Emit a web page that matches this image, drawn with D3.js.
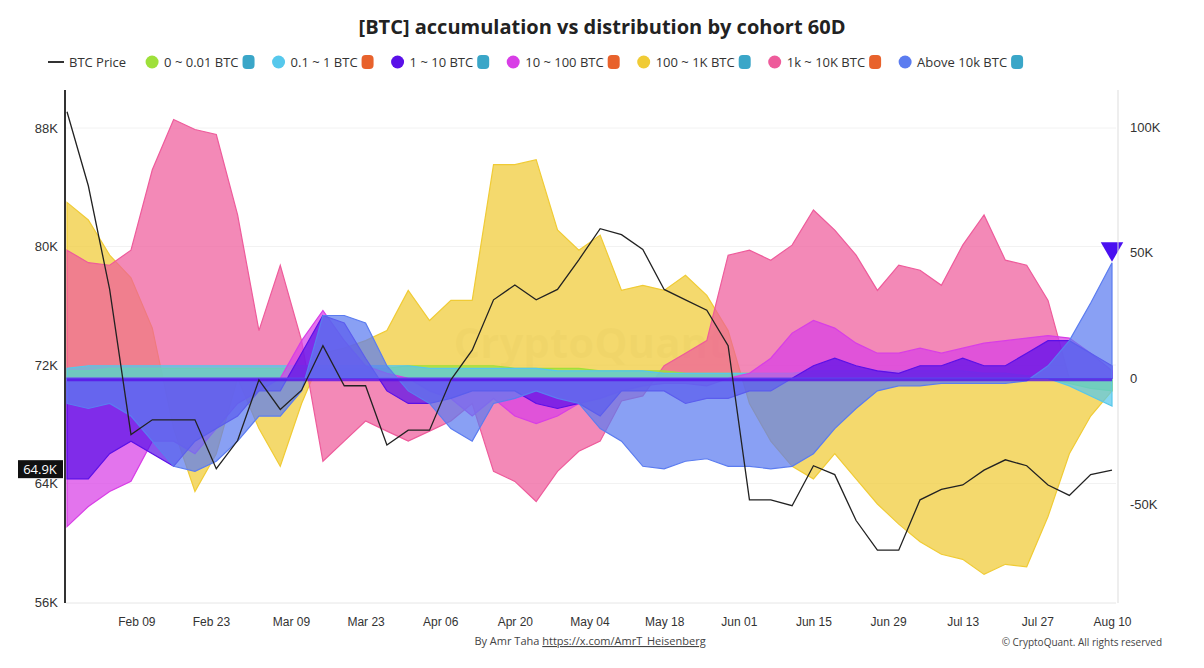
<!DOCTYPE html>
<html><head><meta charset="utf-8">
<script src="https://cdn.jsdelivr.net/npm/d3@7"></script>
<style>body{margin:0;background:#fff;font-family:"Open Sans","Noto Sans",sans-serif}</style>
</head><body>
<svg id="chart" width="1204" height="668"></svg>
<script>
// sample dates (every 4 days)
var dates = d3.range(50).map(function (i) { return d3.timeDay.offset(new Date(2024, 0, 27), i * 4) });

var price = [89.1,84.1,77.1,67.3,68.3,68.3,68.3,65.0,66.9,71.0,69.0,70.3,73.3,70.6,70.6,66.6,67.6,67.6,71.0,73.0,
  76.4,77.4,76.4,77.1,79.1,81.2,80.8,79.8,77.1,76.4,75.7,73.3,62.9,62.9,62.5,65.2,64.6,61.5,59.5,59.5,
  62.9,63.6,63.9,64.9,65.6,65.2,63.9,63.2,64.6,64.9];

var lime = [3,3,4,4,4,4,4,4,4,4,4,4,4,4,4,4,5,5,5,5,5,4,4,4,4,3,3,3,3,2,2,2,2,2,2,2,2,2,2,2,2,2,2,2,2,1,0,-2,-4,-5];
var cyan = [4,5,5,5,5,5,5,5,5,5,5,5,5,5,5,5,5,4,4,4,4,4,4,3,3,3,3,3,2,2,2,2,2,2,2,3,3,3,3,3,3,3,3,2,2,1,0,-3,-7,-11];
var indigo = [-40,-40,-30,-25,-30,-35,-25,-20,-15,-5,-5,10,25,22,8,-5,-10,-10,-8,-5,-5,-5,-10,-12,-10,-15,-5,-5,-5,-10,
  -8,-8,-5,-5,0,5,8,5,3,2,5,5,8,5,5,10,15,15,10,5];
var magenta = [-59,-51,-45,-41,-25,-25,-30,-20,-10,-5,0,15,27,15,5,2,0,-5,-8,-15,-8,-15,-18,-15,-10,-8,-5,-3,-2,-2,
  -3,0,2,8,18,23,20,14,10,10,12,10,12,14,15,16,17,16,10,3];
var yellow = [70,63,49,40,20,-20,-45,-30,0,-20,-35,-10,10,12,15,19,35,23,31,31,85,85,87,59,51,57,35,37,35,41,
  33,19,-10,-25,-35,-40,-30,-40,-50,-58,-65,-70,-72,-78,-74,-75,-55,-30,-15,-5];
var pink = [51,46,45,51,83,103,99,97,65,19,45,15,-33,-25,-17,-21,-25,-21,-17,-10,-37,-41,-49,-37,-29,-25,-9,-7,5,10,
  15,49,51,47,53,67,59,49,35,45,43,37,53,65,47,45,31,0,0,0];
var blue = [-10,-12,-10,-15,-25,-35,-37,-33,-25,-15,-15,-5,25,25,22,5,-5,-10,-20,-25,-10,-8,-5,-8,-10,-20,-25,-35,-36,-33,
  -32,-35,-35,-36,-35,-30,-20,-12,-5,-3,-3,-2,-2,-2,-2,-1,5,15,30,46];

var seriesNames = ['0 ~ 0.01 BTC','0.1 ~ 1 BTC','1 ~ 10 BTC','10 ~ 100 BTC','100 ~ 1K BTC','1k ~ 10K BTC','Above 10k BTC'];
var seriesColors = ['#9ee03a','#56c8ec','#5a10e8','#d83ee6','#f0cb35','#ee5b9b','#5b7cf0'];
var seriesData = [lime, cyan, indigo, magenta, yellow, pink, blue];
var drawOrder = [4, 5, 0, 1, 3, 2, 6];

var priceTicks = [56000, 64000, 72000, 80000, 88000];
var flowTicks = [-50000, 0, 50000, 100000];
var xTicks = ['2024-02-09','2024-02-23','2024-03-09','2024-03-23','2024-04-06','2024-04-20','2024-05-04','2024-05-18',
  '2024-06-01','2024-06-15','2024-06-29','2024-07-13','2024-07-27','2024-08-10'].map(function (s) { return new Date(s + 'T00:00') });

var svg = d3.select('#chart');
var plotL = 66, plotR = 1116, plotT = 90, plotB = 603;

var x = d3.scaleTime().domain([new Date(2024, 0, 27), new Date(2024, 7, 10)]).range([67, 1112]);
var yP = d3.scaleLinear().domain([56000, 88000]).range([602, 128]);
var yF = d3.scaleLinear().domain([-50000, 100000]).range([504, 127]);

svg.append('text').attr('x', 602).attr('y', 34).attr('text-anchor', 'middle')
  .style('font-size', '20px').style('font-weight', 'bold').style('fill', '#222')
  .text('[BTC] accumulation vs distribution by cohort 60D');

// gridlines
svg.append('g').selectAll('line').data(priceTicks.slice(1)).enter().append('line')
  .attr('x1', plotL).attr('x2', plotR).attr('y1', function (d) { return yP(d) }).attr('y2', function (d) { return yP(d) })
  .style('stroke', '#f2f2f2');
svg.append('line').attr('x1', plotL).attr('x2', plotR).attr('y1', plotB).attr('y2', plotB).style('stroke', '#e6e6e6');

// watermark
svg.append('text').attr('x', 590).attr('y', 358).attr('text-anchor', 'middle')
  .style('font-size', '42px').style('font-weight', 'bold').style('fill', '#000').style('opacity', 0.05)
  .text('CryptoQuant');

drawOrder.forEach(function (k) {
  var vals = seriesData[k];
  var area = d3.area().x(function (d, i) { return x(dates[i]) }).y0(yF(0)).y1(function (d) { return yF(d * 1000) });
  svg.append('path').datum(vals).attr('d', area)
    .style('fill', seriesColors[k]).style('fill-opacity', 0.72)
    .style('stroke', seriesColors[k]).style('stroke-width', 1.2);
});
svg.append('line').attr('x1', 67).attr('x2', 1112).attr('y1', yF(0) + 1.5).attr('y2', yF(0) + 1.5)
  .style('stroke', '#5a10e8').style('stroke-width', 3).style('opacity', 0.8);

var line = d3.line().x(function (d, i) { return x(dates[i]) }).y(function (d) { return yP(d * 1000) });
svg.append('path').datum(price).attr('d', line).style('fill', 'none').style('stroke', '#222').style('stroke-width', 1.3);

// marker
var last = blue[blue.length - 1] * 1000;
svg.append('path').attr('d', d3.symbol().type(d3.symbolTriangle).size(220)())
  .attr('transform', 'translate(' + x(dates[49]) + ',' + (yF(last) - 14) + ') rotate(180)').style('fill', '#4a10f0');

// axes
svg.append('line').attr('x1', plotL - 1).attr('x2', plotL - 1).attr('y1', plotT).attr('y2', plotB).style('stroke', '#333').style('stroke-width', 2);
svg.append('line').attr('x1', 1118).attr('x2', 1118).attr('y1', plotT).attr('y2', plotB).style('stroke', '#ddd');

var axisFont = function (g) { g.selectAll('text').style('font-size', '13px').style('fill', '#333'); g.select('.domain').remove(); g.selectAll('line').remove(); };
svg.append('g').attr('transform', 'translate(' + (plotL - 6) + ',0)')
  .call(d3.axisLeft(yP).tickValues(priceTicks).tickFormat(function (d) { return d / 1000 + 'K' }).tickSize(0).tickPadding(2))
  .call(axisFont);
svg.append('g').attr('transform', 'translate(1128,0)')
  .call(d3.axisRight(yF).tickValues(flowTicks).tickFormat(function (d) { return d === 0 ? '0' : d / 1000 + 'K' }).tickSize(0).tickPadding(2))
  .call(axisFont);
svg.append('g').attr('transform', 'translate(0,' + (plotB + 6) + ')')
  .call(d3.axisBottom(x).tickValues(xTicks).tickFormat(d3.timeFormat('%b %d')).tickSize(0).tickPadding(8))
  .call(axisFont)
  .selectAll('text').style('font-size', '12px');

// price badge
var lp = price[price.length - 1] * 1000;
svg.append('rect').attr('x', 18).attr('y', yP(lp) - 10).attr('width', 45).attr('height', 18).style('fill', '#111');
svg.append('text').attr('x', 40).attr('y', yP(lp) + 4).attr('text-anchor', 'middle').style('fill', '#fff').style('font-size', '13px').text('64.9K');

// legend
var lg = svg.append('g').attr('transform', 'translate(0,62)');
var cx = 48;
lg.append('line').attr('x1', cx).attr('x2', cx + 16).attr('y1', 0).attr('y2', 0).style('stroke', '#333').style('stroke-width', 2);
var t0 = lg.append('text').attr('x', cx + 21).attr('y', 5).style('font-size', '13px').style('fill', '#333').text('BTC Price');
cx += 21 + t0.node().getComputedTextLength() + 26;
seriesNames.forEach(function (n, k) {
  lg.append('circle').attr('cx', cx).attr('cy', 0).attr('r', 6.5).style('fill', seriesColors[k]);
  var t = lg.append('text').attr('x', cx + 12).attr('y', 5).style('font-size', '13px').style('fill', '#333').text(n);
  var w = t.node().getComputedTextLength();
  lg.append('rect').attr('x', cx + 16 + w).attr('y', -7).attr('width', 12).attr('height', 14).attr('rx', 4)
    .style('fill', k % 2 ? '#e8622c' : '#3aa6c8');
  cx += 12 + w + 40;
});

// footer
var ft = svg.append('text').attr('x', 590).attr('y', 645).attr('text-anchor', 'middle').style('font-size', '11px').style('fill', '#444');
ft.append('tspan').text('By Amr Taha ');
ft.append('tspan').style('text-decoration', 'underline').text('https://x.com/AmrT_Heisenberg');
svg.append('text').attr('x', 1162).attr('y', 646).attr('text-anchor', 'end').style('font-size', '10px').style('fill', '#444')
  .text('© CryptoQuant. All rights reserved');
</script>
</body></html>
